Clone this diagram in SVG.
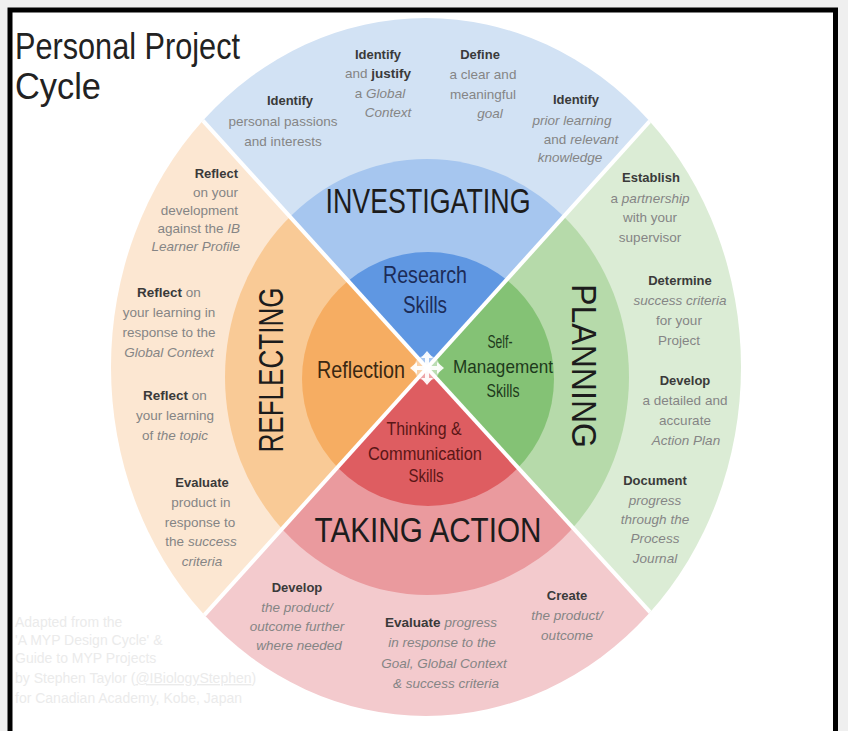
<svg xmlns="http://www.w3.org/2000/svg" width="848" height="731" viewBox="0 0 848 731">
<style>
text{font-family:"Liberation Sans",Arial,sans-serif}
.lb{font-size:13px;font-weight:bold;fill:#3a3a3a;text-anchor:middle}
.bd{font-size:13.5px;fill:#858585;text-anchor:middle}
.bd .b{font-weight:bold;fill:#3a3a3a}
.it{font-style:italic}
.end{text-anchor:end}
.ring{font-size:35px;fill:#1c1c1c;text-anchor:middle}
.in1{font-size:24px;text-anchor:middle}
.in2{font-size:19px;text-anchor:middle}
.ttl{font-size:36px;fill:#222}
.att{font-size:14px;fill:#ebebeb}
</style>
<defs>
<clipPath id="qT"><polygon points="427,368 -236,-364 1093,-370"/></clipPath>
<clipPath id="qR"><polygon points="427,368 1093,-370 1093,1097"/></clipPath>
<clipPath id="qB"><polygon points="427,368 1093,1097 -230,1097"/></clipPath>
<clipPath id="qL"><polygon points="427,368 -230,1097 -236,-364"/></clipPath>
<clipPath id="outer"><ellipse cx="426" cy="367" rx="315" ry="349"/></clipPath>
<ellipse id="e1" cx="426" cy="367" rx="315" ry="349"/>
<ellipse id="e2" cx="427" cy="377" rx="202" ry="218"/>
<ellipse id="e3" cx="428" cy="379" rx="126" ry="127"/>
</defs>
<rect x="0" y="0" width="848" height="731" fill="#efefef"/>
<rect x="10" y="10" width="825.5" height="800" fill="#ffffff" stroke="#000" stroke-width="5"/>

<g id="title">
<text class="ttl" x="15" y="59" textLength="225" lengthAdjust="spacingAndGlyphs">Personal Project</text>
<text class="ttl" x="15" y="99" textLength="86" lengthAdjust="spacingAndGlyphs">Cycle</text>
</g>

<g id="investigating">
<g clip-path="url(#qT)">
<use href="#e1" fill="#d2e2f4"/><use href="#e2" fill="#a6c6ef"/><use href="#e3" fill="#5f97e2"/>
</g>
<text class="lb" x="378" y="59">Identify</text>
<text class="bd" x="378" y="78">and <tspan class="b">justify</tspan></text>
<text class="bd" x="380" y="98">a <tspan class="it">Global</tspan></text>
<text class="bd it" x="388" y="117">Context</text>
<text class="lb" x="480" y="59">Define</text>
<text class="bd" x="483" y="79">a clear and</text>
<text class="bd" x="483" y="99">meaningful</text>
<text class="bd it" x="490" y="118">goal</text>
<text class="lb" x="290" y="105">Identify</text>
<text class="bd" x="283" y="126">personal passions</text>
<text class="bd" x="283" y="146">and interests</text>
<text class="lb" x="576" y="104">Identify</text>
<text class="bd it" x="572" y="125">prior learning</text>
<text class="bd" x="581" y="144">and <tspan class="it">relevant</tspan></text>
<text class="bd it" x="570" y="162">knowledge</text>
<text class="ring" x="428" y="213" textLength="205" lengthAdjust="spacingAndGlyphs">INVESTIGATING</text>
<text class="in1" x="425" y="283" fill="#1c2c58" textLength="84" lengthAdjust="spacingAndGlyphs">Research</text>
<text class="in1" x="425" y="313" fill="#1c2c58" textLength="44" lengthAdjust="spacingAndGlyphs">Skills</text>
</g>

<g id="planning">
<g clip-path="url(#qR)">
<use href="#e1" fill="#dbecd5"/><use href="#e2" fill="#b6daaa"/><use href="#e3" fill="#84c275"/>
</g>
<text class="lb" x="651" y="182">Establish</text>
<text class="bd" x="650" y="203">a <tspan class="it">partnership</tspan></text>
<text class="bd" x="650" y="222">with your</text>
<text class="bd" x="650" y="242">supervisor</text>
<text class="lb" x="680" y="285">Determine</text>
<text class="bd it" x="680" y="305">success criteria</text>
<text class="bd" x="679" y="325">for your</text>
<text class="bd" x="679" y="345">Project</text>
<text class="lb" x="685" y="385">Develop</text>
<text class="bd" x="685" y="405">a detailed and</text>
<text class="bd" x="685" y="425">accurate</text>
<text class="bd it" x="686" y="445">Action Plan</text>
<text class="lb" x="655" y="485">Document</text>
<text class="bd it" x="655" y="505">progress</text>
<text class="bd it" x="655" y="524">through the</text>
<text class="bd it" x="655" y="543">Process</text>
<text class="bd it" x="655" y="563">Journal</text>
<text class="ring" transform="translate(572,366) rotate(90)" x="0" y="0" textLength="164" lengthAdjust="spacingAndGlyphs">PLANNING</text>
<text class="in2" x="500" y="348" fill="#1e3a1c" textLength="25" lengthAdjust="spacingAndGlyphs">Self-</text>
<text class="in2" x="503" y="373" fill="#1e3a1c" textLength="100" lengthAdjust="spacingAndGlyphs">Management</text>
<text class="in2" x="503" y="397" fill="#1e3a1c" textLength="33" lengthAdjust="spacingAndGlyphs">Skills</text>
</g>

<g id="taking-action">
<g clip-path="url(#qB)">
<use href="#e1" fill="#f3cacd"/><use href="#e2" fill="#ea9a9e"/><use href="#e3" fill="#de5d61"/>
</g>
<text class="lb" x="297" y="592">Develop</text>
<text class="bd it" x="297" y="612">the product/</text>
<text class="bd it" x="297" y="631">outcome further</text>
<text class="bd it" x="299" y="650">where needed</text>
<text class="bd" x="441" y="627"><tspan class="b">Evaluate</tspan> <tspan class="it">progress</tspan></text>
<text class="bd it" x="442" y="647">in response to the</text>
<text class="bd it" x="444" y="668">Goal, Global Context</text>
<text class="bd it" x="446" y="688">&amp; success criteria</text>
<text class="lb" x="567" y="600">Create</text>
<text class="bd it" x="567" y="620">the product/</text>
<text class="bd it" x="567" y="640">outcome</text>
<text class="ring" x="428" y="542" textLength="227" lengthAdjust="spacingAndGlyphs">TAKING ACTION</text>
<text class="in2" x="424" y="435" fill="#5a1616" textLength="75" lengthAdjust="spacingAndGlyphs">Thinking &amp;</text>
<text class="in2" x="425" y="460" fill="#5a1616" textLength="114" lengthAdjust="spacingAndGlyphs">Communication</text>
<text class="in2" x="426" y="482" fill="#5a1616" textLength="35" lengthAdjust="spacingAndGlyphs">Skills</text>
</g>

<g id="reflecting">
<g clip-path="url(#qL)">
<use href="#e1" fill="#fce7d2"/><use href="#e2" fill="#f9ca96"/><use href="#e3" fill="#f6ad62"/>
</g>
<text class="lb end" x="238" y="178">Reflect</text>
<text class="bd end" x="238" y="197">on your</text>
<text class="bd end" x="238" y="215">development</text>
<text class="bd end" x="240" y="233">against the <tspan class="it">IB</tspan></text>
<text class="bd end it" x="240" y="251">Learner Profile</text>
<text class="bd" x="169" y="297"><tspan class="b">Reflect</tspan> on</text>
<text class="bd" x="169" y="317">your learning in</text>
<text class="bd" x="169" y="337">response to the</text>
<text class="bd it" x="169" y="357">Global Context</text>
<text class="bd" x="175" y="400"><tspan class="b">Reflect</tspan> on</text>
<text class="bd" x="175" y="420">your learning</text>
<text class="bd" x="175" y="440">of <tspan class="it">the topic</tspan></text>
<text class="lb" x="202" y="487">Evaluate</text>
<text class="bd" x="201" y="507">product in</text>
<text class="bd" x="200" y="527">response to</text>
<text class="bd" x="201" y="546">the <tspan class="it">success</tspan></text>
<text class="bd it" x="202" y="566">criteria</text>
<text class="ring" transform="translate(283,370) rotate(-90)" x="0" y="0" textLength="165" lengthAdjust="spacingAndGlyphs">REFLECTING</text>
<text class="in1" x="361" y="378" fill="#3a2812" textLength="88" lengthAdjust="spacingAndGlyphs">Reflection</text>
</g>

<g id="connectors" clip-path="url(#outer)" stroke="#ffffff" stroke-width="4">
<line x1="427" y1="368" x2="-236" y2="-364"/>
<line x1="427" y1="368" x2="1093" y2="-370"/>
<line x1="427" y1="368" x2="1093" y2="1097"/>
<line x1="427" y1="368" x2="-230" y2="1097"/>
</g>

<g id="center">
<circle cx="427" cy="368" r="13" fill="#ffffff" opacity="0.45"/>
<path transform="translate(427,368)" fill="#ffffff" opacity="0.92" d="M2,-2 L2,-10 L6,-10 L0,-17 L-6,-10 L-2,-10 L-2,-2 L-10,-2 L-10,-6 L-17,0 L-10,6 L-10,2 L-2,2 L-2,10 L-6,10 L0,17 L6,10 L2,10 L2,2 L10,2 L10,6 L17,0 L10,-6 L10,-2 Z"/>
</g>

<g id="attribution">
<text class="att" x="15" y="627">Adapted from the</text>
<text class="att" x="15" y="645">'A MYP Design Cycle' &amp;</text>
<text class="att" x="15" y="663">Guide to MYP Projects</text>
<text class="att" x="15" y="683">by Stephen Taylor (<tspan text-decoration="underline">@IBiologyStephen</tspan>)</text>
<text class="att" x="15" y="703">for Canadian Academy, Kobe, Japan</text>
</g>
</svg>
